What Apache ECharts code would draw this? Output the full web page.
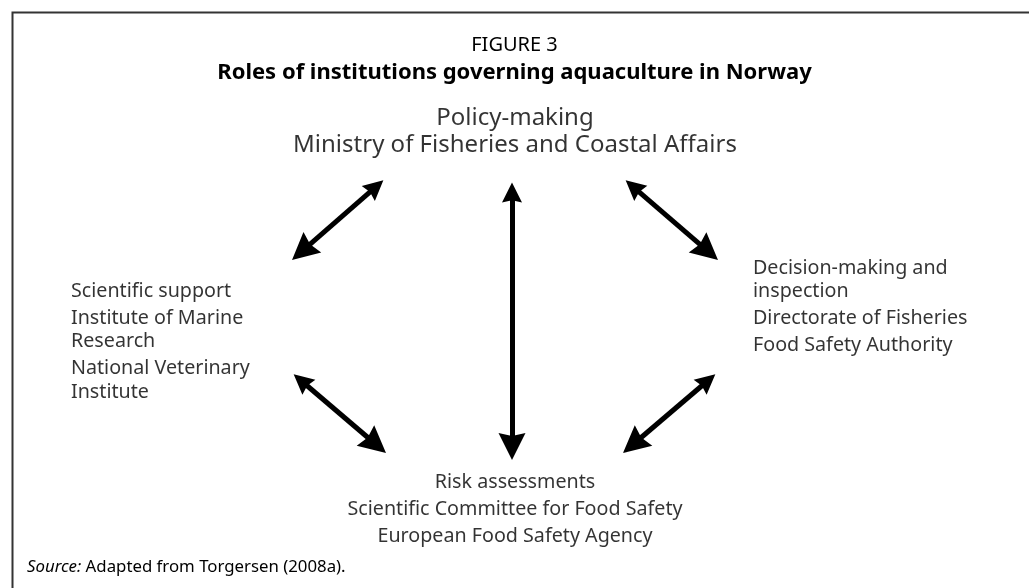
<!DOCTYPE html>
<html><head><meta charset="utf-8">
<script src="https://cdn.jsdelivr.net/npm/echarts@6/dist/echarts.min.js"></script>
<style>html,body{margin:0;padding:0;background:#fff}#c{width:1029px;height:588px}</style>
</head><body><div id="c"></div>
<script>
// ---- content ----
const figureLabel = 'FIGURE 3';
const figureTitle = 'Roles of institutions governing aquaculture in Norway';
const policyLines = [['Policy-making'], ['Ministry of Fisheries and Coastal Affairs']];
const scienceLines = [['Scientific support'], ['Institute of Marine', 'Research'], ['National Veterinary', 'Institute']];
const decisionLines = [['Decision-making and', 'inspection'], ['Directorate of Fisheries'], ['Food Safety Authority']];
const riskLines = [['Risk assessments'], ['Scientific Committee for Food Safety'], ['European Food Safety Agency']];
const sourceLabel = 'Source:';
const sourceText = 'Adapted from Torgersen (2008a).';
// node anchors in diagram units (figure pixel space)
const policyAnchor = [515, 118];
const scienceAnchor = [71, 291];
const decisionAnchor = [753, 268];
const riskAnchor = [515, 482];
// two-headed arrows between nodes (diagram units, tip to tip)
const arrowTopLeft = [[386, 178], [292, 260]];
const arrowTopRight = [[623, 178], [718, 260]];
const arrowVertical = [[512, 179], [512, 460]];
const arrowBottomLeft = [[291, 372], [386, 453]];
const arrowBottomRight = [[718, 372], [623, 453]];

// ---- build ----
const FONT = 'Noto Sans';
const BODY_SIZE = 19.7, TOP_SIZE = 24;
const LINE_STEP = 23.5, PARA_STEP = 27;
function blockPoints(paragraphs, anchor, align, size) {
  const pts = [];
  let y = anchor[1];
  paragraphs.forEach((para, pi) => {
    if (pi > 0) y += PARA_STEP;
    para.forEach((line, li) => {
      if (li > 0) y += LINE_STEP;
      pts.push({ value: [anchor[0], y], name: line, label: { align: align, fontSize: size } });
    });
  });
  return pts;
}
const textData = [].concat(
  blockPoints(policyLines, policyAnchor, 'center', TOP_SIZE),
  blockPoints(scienceLines, scienceAnchor, 'left', BODY_SIZE),
  blockPoints(decisionLines, decisionAnchor, 'left', BODY_SIZE),
  blockPoints(riskLines, riskAnchor, 'center', BODY_SIZE)
);
const arrows = [arrowTopLeft, arrowTopRight, arrowVertical, arrowBottomLeft, arrowBottomRight];
const HEAD = 'path://M10,0 L20,27 L10,24 L0,27 Z';
const HEAD_W = 20, HEAD_L = 27;
// ECharts centres end symbols on the line end: pull each end in by half a head so the tips land on the given points
function insetEnds(c, d) {
  const dx = c[1][0] - c[0][0], dy = c[1][1] - c[0][1];
  const len = Math.sqrt(dx * dx + dy * dy);
  const ux = dx / len * d, uy = dy / len * d;
  return [[c[0][0] + ux, c[0][1] + uy], [c[1][0] - ux, c[1][1] - uy]];
}

const chart = echarts.init(document.getElementById('c'), null, { renderer: 'canvas' });
chart.setOption({
  backgroundColor: '#ffffff',
  animation: false,
  title: [
    { text: figureLabel, left: 'center', top: 30, textStyle: { fontFamily: FONT, fontSize: 20, fontWeight: 'normal', color: '#000' } },
    { text: figureTitle, left: 'center', top: 57, textStyle: { fontFamily: FONT, fontSize: 22, fontWeight: 'bold', color: '#000' } },
    { text: '{i|' + sourceLabel + '} ' + sourceText, left: 22, top: 554,
      textStyle: { fontFamily: FONT, fontSize: 16.8, fontWeight: 'normal', color: '#000',
        rich: { i: { fontFamily: FONT, fontSize: 16.8, fontStyle: 'italic', fontWeight: 'normal', color: '#000' } } } }
  ],
  graphic: [
    { type: 'rect', left: 10, top: 10, shape: { width: 1100, height: 700 }, style: { fill: 'none', stroke: '#333', lineWidth: 2 }, silent: true }
  ],
  grid: { left: 0, right: 0, top: 0, bottom: 0 },
  xAxis: { type: 'value', min: 0, max: 1029, show: false },
  yAxis: { type: 'value', min: 0, max: 588, inverse: true, show: false },
  series: [
    {
      type: 'lines', coordinateSystem: 'cartesian2d', silent: true,
      symbol: [HEAD, HEAD], symbolSize: [HEAD_W, HEAD_L],
      lineStyle: { color: '#000', width: 5, opacity: 1 },
      itemStyle: { color: '#000' },
      data: arrows.map(c => ({ coords: insetEnds(c, HEAD_L / 2) }))
    },
    {
      type: 'scatter', symbolSize: 0, silent: true,
      label: { show: true, position: 'inside', formatter: p => p.name, fontFamily: FONT, fontSize: BODY_SIZE, color: '#000', verticalAlign: 'middle' },
      data: textData
    }
  ]
});
</script></body></html>
